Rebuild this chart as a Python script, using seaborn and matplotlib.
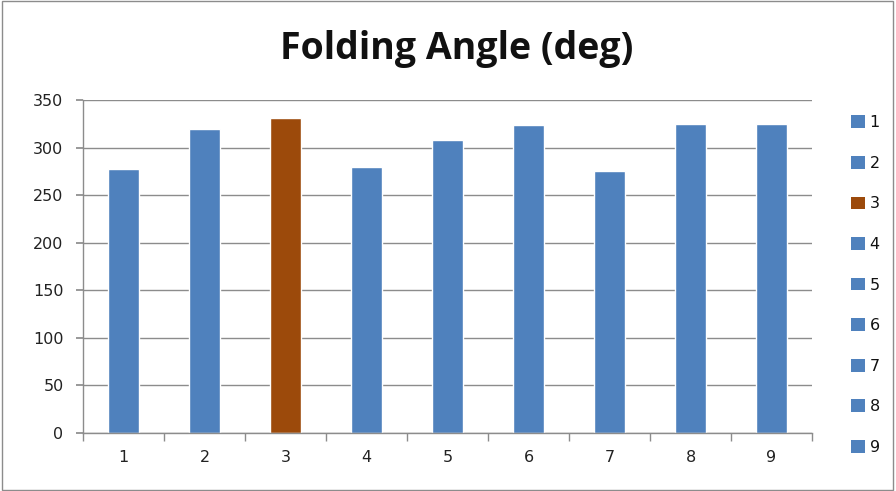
import matplotlib
matplotlib.use("Agg")
import matplotlib.pyplot as plt
import seaborn as sns
import pandas as pd
import numpy as np
from matplotlib.patches import Rectangle

categories = ["1", "2", "3", "4", "5", "6", "7", "8", "9"]
values = [278, 319, 331, 280, 308, 324, 275, 325, 325]
bar_colors = ["#4F81BD", "#4F81BD", "#9C4A0B", "#4F81BD", "#4F81BD",
              "#4F81BD", "#4F81BD", "#4F81BD", "#4F81BD"]
y_ticks = [0, 50, 100, 150, 200, 250, 300, 350]

df = pd.DataFrame({"sample": categories, "angle": values})

sns.set_theme(style="white")
plt.rcParams["font.family"] = ["DejaVu Sans"]

fig = plt.figure(figsize=(8.96, 4.91), dpi=100)
ax = fig.add_axes([83 / 896, 58 / 491, 729 / 896, 333 / 491])

sns.barplot(data=df, x="sample", y="angle", hue="sample",
            palette=dict(zip(categories, bar_colors)), width=0.39,
            saturation=1, legend=False, ax=ax)

ax.set_xlim(-0.5, len(categories) - 0.5)
ax.set_ylim(0, 350)
ax.set_yticks(y_ticks)
ax.set_xlabel("")
ax.set_ylabel("")
ax.yaxis.grid(True, color="#8C8C8C", linewidth=1.0)
ax.set_axisbelow(True)

for side in ["top", "right"]:
    ax.spines[side].set_visible(False)
for side in ["left", "bottom"]:
    ax.spines[side].set_color("#8C8C8C")
    ax.spines[side].set_linewidth(1.0)

ax.tick_params(axis="y", which="major", direction="out", length=5,
               color="#8C8C8C", left=True, labelsize=11.5, pad=9,
               labelcolor="#222222")
ax.tick_params(axis="x", which="major", length=0, labelsize=11.5, pad=12,
               labelcolor="#222222")
ax.set_xticks(np.arange(-0.5, len(categories), 1.0), minor=True)
ax.tick_params(axis="x", which="minor", direction="out", length=6,
               color="#8C8C8C", bottom=True)

fig.text(457 / 896, 1 - 49 / 491, "Folding Angle (deg)", ha="center",
         va="center", fontsize=27, fontweight="bold", color="#111111",
         family="Open Sans")

# legend: one square swatch per sample
handles = [Rectangle((0, 0), 1, 1, facecolor=c, edgecolor="none")
           for c in bar_colors]
fig.legend(handles, categories, loc="upper left",
           bbox_to_anchor=(837 / 896, 1 - 101 / 491), frameon=False,
           handlelength=0.85, handleheight=0.85, handletextpad=0.3,
           labelspacing=1.6, fontsize=11.5, labelcolor="#111111")

# outer chart frame
fig.patches.append(Rectangle((0.002, 0.003), 0.995, 0.994,
                             transform=fig.transFigure, fill=False,
                             edgecolor="#8C8C8C", linewidth=1.0))

fig.savefig("out.png", dpi=100)
